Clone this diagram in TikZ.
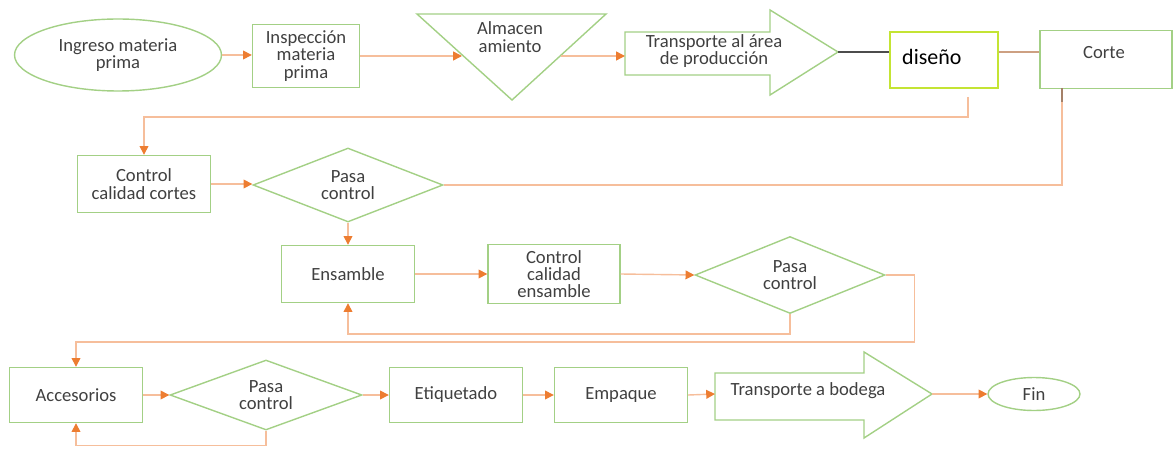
\documentclass[tikz,border=0pt]{standalone}
\usepackage{fontspec}
\setmainfont{Carlito}
\usetikzlibrary{shapes.geometric,arrows.meta}

\definecolor{verde}{RGB}{163,208,133}
\definecolor{lima}{RGB}{196,228,52}
\definecolor{salmon}{RGB}{246,190,155}
\definecolor{naranja}{RGB}{237,125,49}
\definecolor{cafe}{RGB}{205,160,130}
\definecolor{texto}{RGB}{64,64,64}

\tikzset{
  caja/.style={draw=verde, line width=0.8pt, minimum width=2.66cm, minimum height=1.14cm,
    align=center, text=texto},
  rombo/.style={diamond, draw=verde, line width=0.8pt, aspect=2.5, inner sep=0pt,
    minimum width=3.8cm, minimum height=1.5cm, align=center, text=texto},
  ovalo/.style={ellipse, draw=verde, line width=0.8pt, inner sep=0pt, align=center, text=texto},
  forma/.style={draw=verde, line width=0.8pt},
  flecha/.style={draw=salmon, line width=0.8pt, -{Triangle[length=5pt,width=5pt,color=naranja]}},
  linea/.style={draw=salmon, line width=0.8pt}
}

\begin{document}
\begin{tikzpicture}[x=0.02cm, y=-0.02cm, every node/.style={font=\fontsize{10.6}{9.8}\selectfont}]
  \useasboundingbox (0,0) rectangle (1175,449);

  % --- Fila 1 ---
  \node[ovalo, minimum width=4.14cm, minimum height=1.44cm] (ingreso) at (118,55) {Ingreso materia\\prima};
  \node[caja, minimum width=2.14cm, minimum height=1.26cm] (insp) at (306,56) {Inspección\\materia\\prima};

  % almacenamiento (triangulo)
  \draw[forma] (417,14) -- (606,14) -- (512,100) -- cycle;
  \node[text=texto, align=center] (almac) at (510,37) {Almacen\\amiento};
  \coordinate (almL) at (462,56);
  \coordinate (almR) at (561,56);

  % transporte al area de produccion (flecha)
  \draw[forma] (625,32) -- (770,32) -- (770,10) -- (838,52) -- (770,95) -- (770,75) -- (625,75) -- cycle;
  \node[text=texto, align=center] (transp) at (714,51) {Transporte al área\\de producción};
  \coordinate (transpL) at (625,56);
  \coordinate (transpT) at (838,52);

  \node[caja, draw=lima, minimum width=2.16cm, minimum height=1.12cm] (diseno) at (944,60) {};
  \node[text=black, font=\fontsize{12.5}{13}\selectfont, anchor=west] (disenotxt) at (896,57) {diseño};
  \node[caja, minimum width=2.64cm, minimum height=1.16cm, anchor=north] (corte) at (1106,30) {};
  \node[text=texto] (cortetxt) at (1104,53) {Corte};

  \draw[flecha] (ingreso.east) -- (insp.west |- ingreso.east);
  \draw[flecha] (insp.east) -- (almL);
  \draw[flecha] (almR) -- (transpL);
  \draw[line width=0.8pt, black!70] (transpT) -- (transpT -| diseno.west);
  \draw[line width=0.8pt, cafe] (transpT -| diseno.east) -- (transpT -| corte.west);

  % --- Fila 2 ---
  \node[caja] (cortes) at (144,184) {Control\\calidad cortes};
  \node[rombo, minimum height=1.48cm] (pasa1) at (348,185) {Pasa\\control};

  \coordinate (disB) at (968,97);
  \draw[flecha] (disB) -- (968,117) -| (cortes.north);
  \draw[flecha] (cortes.east) -- (cortes.east -| pasa1.west);
  \coordinate (corB) at (1062,92);
  \draw[linea] (pasa1.east) -| (corB);
  \draw[line width=0.8pt, cafe!80!black] (1062,88) -- (1062,102);

  % --- Fila 3 ---
  \node[caja] (ensamble) at (348,274) {Ensamble};
  \node[caja, minimum width=2.64cm] (ctrlens) at (554,274) {Control\\calidad\\ensamble};
  \node[rombo, minimum height=1.54cm] (pasa2) at (790,275) {Pasa\\control};

  \draw[flecha] (pasa1.south) -- (ensamble.north);
  \draw[flecha] (ensamble.east) -- (ctrlens.west);
  \draw[flecha] (ctrlens.east) -- (pasa2.west);
  \draw[flecha] (pasa2.south) -- ++(0,20) -| (ensamble.south);

  % --- Fila 4 ---
  \node[caja, minimum height=1.1cm] (acc) at (76,395) {Accesorios};
  \node[rombo, minimum width=3.84cm, minimum height=1.4cm] (pasa3) at (266,395) {Pasa\\control};
  \node[caja, minimum height=1.1cm] (etiq) at (456,395) {Etiquetado};
  \node[caja, minimum height=1.1cm] (emp) at (621,395) {Empaque};

  % transporte a bodega (flecha)
  \draw[forma] (715,373) -- (864,373) -- (864,352) -- (932,394) -- (864,438) -- (864,420) -- (715,420) -- cycle;
  \node[text=texto] (bodega) at (808,391) {Transporte a bodega};
  \coordinate (bodL) at (715,394);
  \coordinate (bodT) at (932,394);

  \node[ovalo, minimum width=1.84cm, minimum height=0.66cm] (fin) at (1034,394) {Fin};

  \draw[flecha] (pasa2.east) -- ++(29,0) -- ++(0,67) -| (acc.north);
  \draw[flecha] (acc.east) -- (pasa3.west);
  \draw[flecha] (pasa3.south) -- ++(0,15) -| (acc.south);
  \draw[flecha] (pasa3.east) -- (etiq.west);
  \draw[flecha] (etiq.east) -- (emp.west);
  \draw[flecha] (emp.east) -- (bodL);
  \draw[flecha] (bodT) -- (fin.west);

\end{tikzpicture}
\end{document}
